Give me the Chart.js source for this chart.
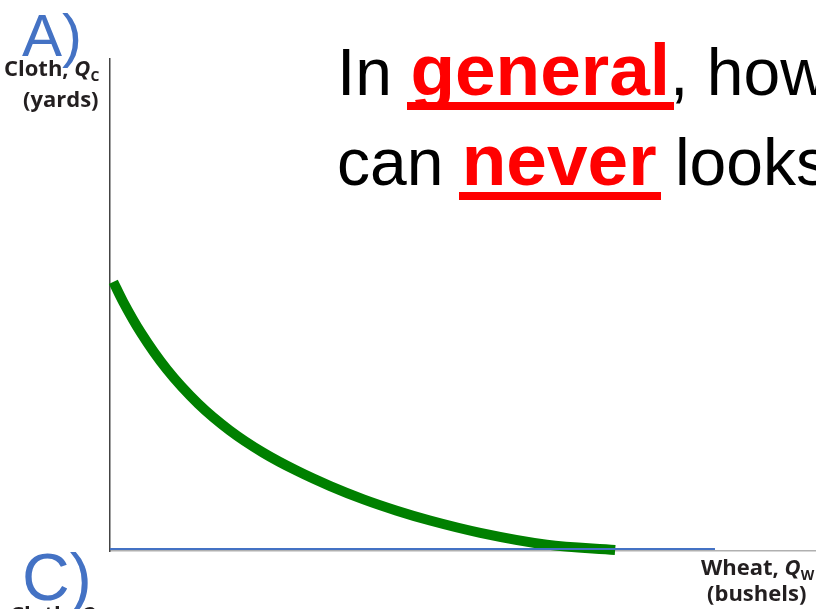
<!DOCTYPE html>
<html lang="en">

<head>
  <meta charset="UTF-8" />
  <title>PPF curve</title>
  <script src="https://cdn.jsdelivr.net/npm/chart.js"></script>
  <style>
    body { margin: 0; background: #fff; }
    #slide { position: relative; width: 816px; height: 609px; overflow: hidden; }
    #ppf { position: absolute; left: 0; top: 0; }
    .t { position: absolute; white-space: nowrap; line-height: 1; }
    .big { font-family: "Liberation Sans", Arial, sans-serif; font-size: 66px; color: #000; left: 337px; }
    .big b { position: relative; font-size: 73px; color: #ff0000; }
    .big b::after {
      content: '';
      position: absolute;
      left: -3px;
      right: -4px;
      top: 73px;
      height: 8px;
      background: #ff0000;
    }
    .panel { font-family: "Liberation Sans", Arial, sans-serif; color: #4472c4; }
    .axis { font-family: "Open Sans", sans-serif; font-weight: bold; font-size: 22px; color: #231f20; }
    .axis i sub { font-style: normal; }
    sub { font-size: 14px; vertical-align: 0; position: relative; top: 5px; }
  </style>
</head>

<body>
  <div id="slide">
    <canvas id="ppf" width="816" height="609"></canvas>

    <!-- panel letters -->
    <div class="t panel" style="left:22px; top:6px; font-size:60px;">A)</div>
    <div class="t panel" style="left:22px; top:544px; font-size:66px;">C)</div>

    <!-- axis titles -->
    <div class="t axis" style="left:4px; top:56px;">Cloth, <i>Q<sub>C</sub></i></div>
    <div class="t axis" style="left:23px; top:87px;">(yards)</div>
    <div class="t axis" style="left:701px; top:555px;">Wheat, <i>Q<sub>W</sub></i></div>
    <div class="t axis" style="left:707px; top:581px;">(bushels)</div>
    <div class="t axis" style="left:10px; top:602px;">Cloth, <i>Q<sub>C</sub></i></div>

    <!-- slide text -->
    <div class="t big" style="top:33px;">In <b>general</b>, however, a PPF</div>
    <div class="t big" style="top:123px;">can <b>never</b> looks like this</div>
  </div>

  <script>
    // curve (wheat, cloth)
    const wheat = [0.55, 2.2, 5.2, 9.4, 14.6, 19.8, 25.3, 30.9, 36.4, 41.9, 47.4, 52.9, 61.2, 72.2, 83.5];
    const cloth = [54.7, 50.6, 44.2, 36.9, 29.9, 24.5, 20.0, 16.3, 13.2, 10.5, 8.2, 6.2, 3.7, 1.3, 0.2];

    // blue horizontal line along the wheat axis
    const baseX = [0, 100];
    const baseY = [0.4, 0.4];

    const xMax = 116.7;
    const yMax = 100;

    const curve = wheat.map((w, i) => ({ x: w, y: cloth[i] }));
    const base = baseX.map((w, i) => ({ x: w, y: baseY[i] }));

    const noSize = s => { if (s.isHorizontal()) s.height = 0; else s.width = 0; };

    new Chart(document.getElementById("ppf"), {
      type: 'scatter',
      data: {
        datasets: [{
          data: base,
          showLine: true,
          borderColor: '#4472c4',
          borderWidth: 2,
          pointRadius: 0,
          clip: false
        }, {
          data: curve,
          showLine: true,
          borderColor: '#008000',
          borderWidth: 10,
          borderCapStyle: 'butt',
          cubicInterpolationMode: 'monotone',
          pointRadius: 0,
          clip: false
        }]
      },
      options: {
        responsive: false,
        animation: false,
        devicePixelRatio: 1,
        layout: { padding: { left: 110, top: 59, right: 0, bottom: 58 } },
        plugins: { legend: { display: false }, tooltip: { enabled: false } },
        scales: {
          x: {
            type: 'linear', min: 0, max: xMax,
            grid: { display: false },
            ticks: { display: false },
            border: { color: '#b0b0b0', width: 1.5 },
            afterFit: noSize
          },
          y: {
            type: 'linear', min: 0, max: yMax,
            grid: { display: false },
            ticks: { display: false },
            border: { color: '#444', width: 1.5 },
            afterFit: noSize
          }
        }
      }
    });
  </script>
</body>

</html>
